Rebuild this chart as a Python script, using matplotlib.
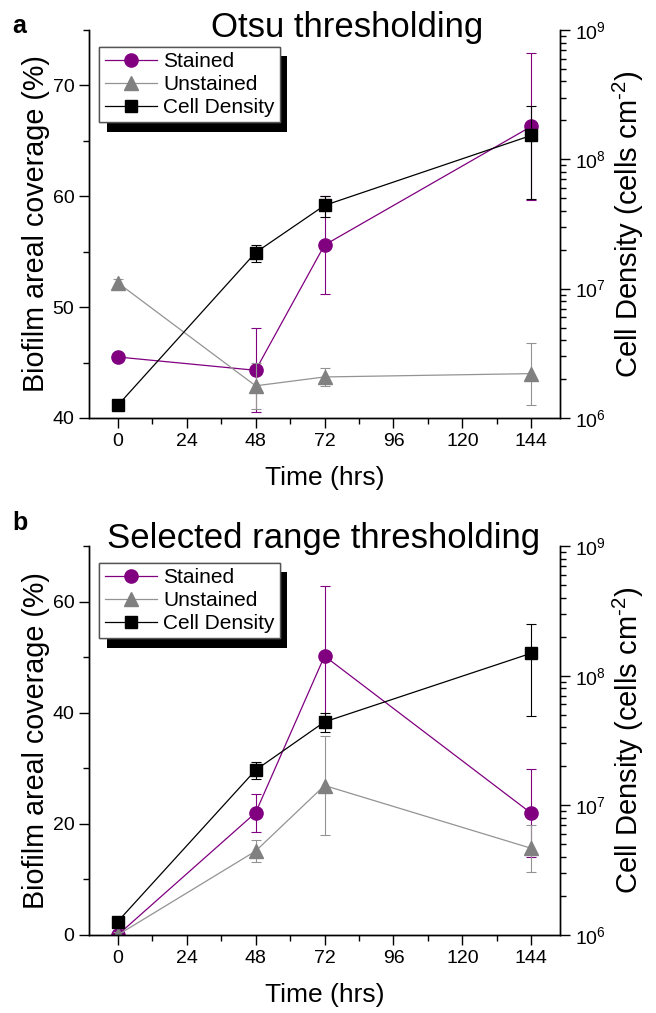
import matplotlib
matplotlib.use("Agg")
import matplotlib.pyplot as plt
import matplotlib.patheffects as pe
from matplotlib.ticker import MultipleLocator, LogLocator, NullFormatter

plt.rcParams["font.family"] = ["Liberation Sans", "DejaVu Sans"]
plt.rcParams["mathtext.fontset"] = "custom"
plt.rcParams["mathtext.rm"] = "Liberation Sans"
plt.rcParams["mathtext.it"] = "Liberation Sans:italic"

# sampling times (hrs)
time = [0, 48, 72, 144]

# panel a: Otsu thresholding
a_stained = [45.5, 44.3, 55.6, 66.3]
a_stained_err = [0.3, 3.8, 4.4, 6.6]
a_unstained = [52.2, 42.9, 43.7, 44.0]
a_unstained_err = [0.3, 2.1, 0.8, 2.8]
a_density = [1.25e6, 1.9e7, 4.4e7, 1.53e8]
a_density_err = [0.1e6, 0.29e7, 0.79e7, 1.04e8]

# panel b: selected range thresholding
b_stained = [0.0, 22.0, 50.2, 21.9]
b_stained_err = [0.9, 3.4, 12.6, 7.9]
b_unstained = [0.0, 15.1, 26.9, 15.6]
b_unstained_err = [0.5, 2.0, 8.9, 4.2]
b_density = [1.27e6, 1.87e7, 4.4e7, 1.49e8]
b_density_err = [0.1e6, 0.28e7, 0.75e7, 1.0e8]

PURPLE = "#800080"
GREY = "#808080"
GREY_LINE = "#939393"


def style_ticks(ax):
    ax.tick_params(which="major", direction="out", length=7, width=1,
                   labelsize=14, pad=3.5)
    ax.tick_params(which="minor", direction="out", length=4, width=1)
    for s in ax.spines.values():
        s.set_linewidth(1.0)


def draw_panel(fig, rect, ylim, ymajor, st, st_err, un, un_err, dens, dens_err):
    ax = fig.add_axes(rect)
    ax2 = ax.twinx()

    ax.errorbar(time, st, yerr=st_err, fmt="none", ecolor=PURPLE,
                elinewidth=0.8, capsize=3.6, capthick=0.8)
    h1, = ax.plot(time, st, "-o", color=PURPLE, lw=0.9, ms=9.5,
                  label="Stained")
    ax.errorbar(time, un, yerr=un_err, fmt="none", ecolor=GREY_LINE,
                elinewidth=0.8, capsize=3.6, capthick=0.8)
    h2, = ax.plot(time, un, "-^", color=GREY_LINE, mfc=GREY, mec=GREY,
                  lw=0.9, ms=10, label="Unstained")

    ax2.errorbar(time, dens, yerr=dens_err, fmt="none", ecolor="black",
                 elinewidth=0.8, capsize=3.6, capthick=0.8)
    h3, = ax2.plot(time, dens, "-s", color="black", lw=0.9, ms=8,
                   label="Cell Density")

    ax.set_xlim(-10, 154)
    ax.set_ylim(*ylim)
    ax.xaxis.set_major_locator(MultipleLocator(24))
    ax.xaxis.set_minor_locator(MultipleLocator(12))
    ax.yaxis.set_major_locator(MultipleLocator(ymajor))
    ax.yaxis.set_minor_locator(MultipleLocator(ymajor / 2))

    ax2.set_yscale("log")
    ax2.set_ylim(1e6, 1e9)
    ax2.yaxis.set_major_locator(LogLocator(base=10, numticks=10))
    ax2.yaxis.set_minor_locator(LogLocator(base=10, subs=range(2, 10), numticks=20))
    ax2.yaxis.set_minor_formatter(NullFormatter())

    for a in (ax, ax2):
        a.spines["top"].set_visible(False)
        style_ticks(a)

    ax.set_xlabel("Time (hrs)", fontsize=19, labelpad=12)
    ax.set_ylabel("Biofilm areal coverage (%)", fontsize=20.7, labelpad=2)
    ax2.set_ylabel("Cell Density (cells cm$^{\\text{-}2}$)", fontsize=21, labelpad=4)

    leg = ax2.legend([h1, h2, h3], ["Stained", "Unstained", "Cell Density"],
                     loc="upper left", bbox_to_anchor=(0.022, 0.957),
                     borderaxespad=0, fontsize=15, fancybox=False,
                     handlelength=2.5, handletextpad=0.3, labelspacing=0.2,
                     borderpad=0.25, framealpha=1)
    frame = leg.get_frame()
    frame.set_edgecolor("#555555")
    frame.set_linewidth(1.0)
    frame.set_path_effects([
        pe.withSimplePatchShadow(offset=(5.5, -7), shadow_rgbFace="black", alpha=1.0),
        pe.Normal(),
    ])
    return ax, ax2


def main():
    fig = plt.figure(figsize=(6.56, 10.13), dpi=100)

    draw_panel(fig, [0.1357, 0.5874, 0.718, 0.383], (40, 75), 10,
               a_stained, a_stained_err, a_unstained, a_unstained_err,
               a_density, a_density_err)
    draw_panel(fig, [0.1357, 0.0770, 0.718, 0.384], (0, 70), 20,
               b_stained, b_stained_err, b_unstained, b_unstained_err,
               b_density, b_density_err)

    fig.text(347 / 656, 1 - 37 / 1013, "Otsu thresholding", fontsize=25,
             ha="center", va="baseline")
    fig.text(324 / 656, 1 - 548 / 1013, "Selected range thresholding",
             fontsize=25, ha="center", va="baseline")
    fig.text(12 / 656, 1 - 33 / 1013, "a", fontsize=18, fontweight="bold",
             va="baseline")
    fig.text(12 / 656, 1 - 530 / 1013, "b", fontsize=18, fontweight="bold",
             va="baseline")

    fig.savefig("out.png", dpi=100)
    plt.close(fig)


if __name__ == "__main__":
    main()
